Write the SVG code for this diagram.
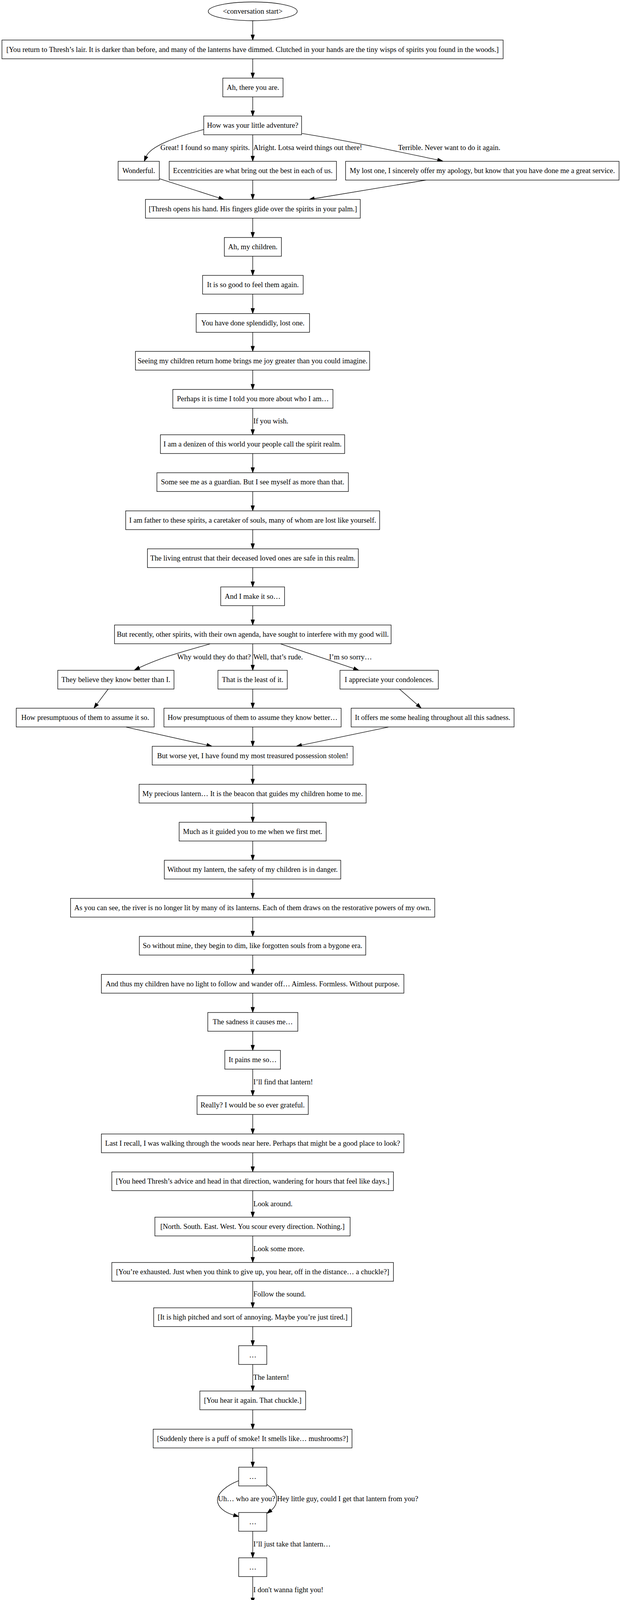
<svg xmlns="http://www.w3.org/2000/svg" width="1591" height="4700" viewBox="0 0 1591 4700">
<style>
text{font-family:"Liberation Serif","Times New Roman",Times,serif;font-size:18.67px;fill:#000}
.node text{text-anchor:middle}
.node rect,.node ellipse{fill:#fff;stroke:#000;stroke-width:1.33}
.edges path{fill:none;stroke:#000;stroke-width:1.33}
.lbl{text-anchor:start}
</style>
<defs>
<marker id="ah" viewBox="0 0 14 10" refX="0" refY="5" markerWidth="14" markerHeight="10" markerUnits="userSpaceOnUse" orient="auto" overflow="visible"><path d="M0,0.33 L13.33,5 L0,9.67 Z" fill="#000" stroke="#000" stroke-width="1"/></marker>
</defs>
<rect x="0" y="0" width="1591" height="4700" fill="#fff"/>
<g id="connectors" class="edges">
<path d="M647.5,53 L647.5,89.2" marker-end="url(#ah)"/>
<path d="M647.5,150.5 L647.5,186.7" marker-end="url(#ah)"/>
<path d="M647.5,248 L647.5,283.7" marker-end="url(#ah)"/>
<path d="M522,331.7 C450,350 385,375 374.6,400.6" marker-end="url(#ah)"/>
<path d="M647.5,345 L647.5,399.7" marker-end="url(#ah)"/>
<path d="M773.6,341.7 C900,362 1000,384 1121.3,409.4" marker-end="url(#ah)"/>
<path d="M408,457.3 L561,506.6" marker-end="url(#ah)"/>
<path d="M647.5,461 L647.5,497.2" marker-end="url(#ah)"/>
<path d="M1091.5,461 L805.1,508.5" marker-end="url(#ah)"/>
<path d="M647.5,558.5 L647.5,594.7" marker-end="url(#ah)"/>
<path d="M647.5,656 L647.5,691.7" marker-end="url(#ah)"/>
<path d="M647.5,753 L647.5,789.4" marker-end="url(#ah)"/>
<path d="M647.5,850.7 L647.5,886.2" marker-end="url(#ah)"/>
<path d="M647.5,947.5 L647.5,983.7" marker-end="url(#ah)"/>
<path d="M647.5,1045 L647.5,1099.7" marker-end="url(#ah)"/>
<path d="M647.5,1161 L647.5,1197" marker-end="url(#ah)"/>
<path d="M647.5,1258.3 L647.5,1294.5" marker-end="url(#ah)"/>
<path d="M647.5,1355.8 L647.5,1391.7" marker-end="url(#ah)"/>
<path d="M647.5,1453 L647.5,1489.2" marker-end="url(#ah)"/>
<path d="M647.5,1550.5 L647.5,1586.7" marker-end="url(#ah)"/>
<path d="M538,1648.3 C470,1668 420,1680 356.7,1709.4" marker-end="url(#ah)"/>
<path d="M647.5,1648 L647.5,1702.7" marker-end="url(#ah)"/>
<path d="M719,1648.3 L906.4,1711.4" marker-end="url(#ah)"/>
<path d="M277.2,1764 L248.6,1802.1" marker-end="url(#ah)"/>
<path d="M647.5,1764 L647.5,1799.7" marker-end="url(#ah)"/>
<path d="M1023.4,1764 L1069,1803.9" marker-end="url(#ah)"/>
<path d="M323,1861.3 L530,1907.4" marker-end="url(#ah)"/>
<path d="M647.5,1861 L647.5,1897.2" marker-end="url(#ah)"/>
<path d="M995,1861.3 L772.5,1907.6" marker-end="url(#ah)"/>
<path d="M647.5,1958.5 L647.5,1994.4" marker-end="url(#ah)"/>
<path d="M647.5,2055.7 L647.5,2091.7" marker-end="url(#ah)"/>
<path d="M647.5,2153 L647.5,2189" marker-end="url(#ah)"/>
<path d="M647.5,2250.3 L647.5,2286.5" marker-end="url(#ah)"/>
<path d="M647.5,2347.8 L647.5,2383.7" marker-end="url(#ah)"/>
<path d="M647.5,2445 L647.5,2481.2" marker-end="url(#ah)"/>
<path d="M647.5,2542.5 L647.5,2578.7" marker-end="url(#ah)"/>
<path d="M647.5,2640 L647.5,2675.7" marker-end="url(#ah)"/>
<path d="M647.5,2737 L647.5,2791.7" marker-end="url(#ah)"/>
<path d="M647.5,2853 L647.5,2889.7" marker-end="url(#ah)"/>
<path d="M647.5,2951 L647.5,2986.7" marker-end="url(#ah)"/>
<path d="M647.5,3048 L647.5,3102.7" marker-end="url(#ah)"/>
<path d="M647.5,3164 L647.5,3218.7" marker-end="url(#ah)"/>
<path d="M647.5,3280 L647.5,3334.7" marker-end="url(#ah)"/>
<path d="M647.5,3396 L647.5,3431.7" marker-end="url(#ah)"/>
<path d="M647.5,3493 L647.5,3547.7" marker-end="url(#ah)"/>
<path d="M647.5,3609 L647.5,3645.4" marker-end="url(#ah)"/>
<path d="M647.5,3706.7 L647.5,3742.7" marker-end="url(#ah)"/>
<path d="M611.4,3790.7 C575,3805 557,3825 557,3840 C557,3858 575,3872 598.8,3878.7" marker-end="url(#ah)"/>
<path d="M683.6,3800 C700,3812 709,3825 709,3837 C709,3850 703,3860 694.5,3866.4" marker-end="url(#ah)"/>
<path d="M647.5,3920 L647.5,3974.7" marker-end="url(#ah)"/>
<path d="M647.5,4036 L647.5,4090.7" marker-end="url(#ah)"/>
<path d="M647.5,4152 L647.5,4206.7" marker-end="url(#ah)"/>
<path d="M647.5,4268 L647.5,4303.7" marker-end="url(#ah)"/>
<path d="M647.5,4365 L647.5,4401.2" marker-end="url(#ah)"/>
<path d="M647.5,4462.5 L647.5,4517.7" marker-end="url(#ah)"/>
<path d="M647.5,4579 L647.5,4633.7" marker-end="url(#ah)"/>
<text class="lbl" x="411" y="384">Great! I found so many spirits.</text>
<text class="lbl" x="649" y="384">Alright. Lotsa weird things out there!</text>
<text class="lbl" x="1020" y="384">Terrible. Never want to do it again.</text>
<text class="lbl" x="649" y="1084">If you wish.</text>
<text class="lbl" x="454" y="1688">Why would they do that?</text>
<text class="lbl" x="649" y="1688">Well, that’s rude.</text>
<text class="lbl" x="843" y="1688">I’m so sorry…</text>
<text class="lbl" x="649" y="2776">I’ll find that lantern!</text>
<text class="lbl" x="649" y="3088">Look around.</text>
<text class="lbl" x="649" y="3203">Look some more.</text>
<text class="lbl" x="649" y="3319">Follow the sound.</text>
<text class="lbl" x="649" y="3532">The lantern!</text>
<text class="lbl" x="558.5" y="3843">Uh… who are you?</text>
<text class="lbl" x="710" y="3843">Hey little guy, could I get that lantern from you?</text>
<text class="lbl" x="649" y="3959">I’ll just take that lantern…</text>
<text class="lbl" x="649" y="4076">I don't wanna fight you!</text>
<text class="lbl" x="649" y="4192">Do you want to… fistbump?</text>
<text class="lbl" x="649" y="4503">[Throw out two fingers. Scissors beat paper?]</text>
<text class="lbl" x="649" y="4618">Thanks… I think.</text>
</g>
<g id="n0" class="node"><ellipse cx="647.5" cy="29" rx="114" ry="24"/><text x="647.5" y="35">&lt;conversation start&gt;</text></g>
<g id="n1" class="node"><rect x="5" y="102.5" width="1284" height="48"/><text x="647" y="132.5">[You return to Thresh’s lair. It is darker than before, and many of the lanterns have dimmed. Clutched in your hands are the tiny wisps of spirits you found in the woods.]</text></g>
<g id="n2" class="node"><rect x="570.8" y="200" width="154.4" height="48"/><text x="648" y="230">Ah, there you are.</text></g>
<g id="n3" class="node"><rect x="522" y="297" width="250.6" height="48"/><text x="647.3" y="327">How was your little adventure?</text></g>
<g id="n4a" class="node"><rect x="302.6" y="413" width="105.6" height="48"/><text x="355.4" y="443">Wonderful.</text></g>
<g id="n4b" class="node"><rect x="433.5" y="413" width="428.5" height="48"/><text x="647.7" y="443">Eccentricities are what bring out the best in each of us.</text></g>
<g id="n4c" class="node"><rect x="885.4" y="413" width="700.6" height="48"/><text x="1235.7" y="443">My lost one, I sincerely offer my apology, but know that you have done me a great service.</text></g>
<g id="n5" class="node"><rect x="372.6" y="510.5" width="550.4" height="48"/><text x="647.8" y="540.5">[Thresh opens his hand. His fingers glide over the spirits in your palm.]</text></g>
<g id="n6" class="node"><rect x="574.7" y="608" width="146.3" height="48"/><text x="647.8" y="638">Ah, my children.</text></g>
<g id="n7" class="node"><rect x="519" y="705" width="257.7" height="48"/><text x="647.8" y="735">It is so good to feel them again.</text></g>
<g id="n8" class="node"><rect x="502.6" y="802.7" width="290.4" height="48"/><text x="647.8" y="832.7">You have done splendidly, lost one.</text></g>
<g id="n9" class="node"><rect x="347" y="899.5" width="600" height="48"/><text x="647" y="929.5">Seeing my children return home brings me joy greater than you could imagine.</text></g>
<g id="n10" class="node"><rect x="442.7" y="997" width="410.3" height="48"/><text x="647.8" y="1027">Perhaps it is time I told you more about who I am…</text></g>
<g id="n11" class="node"><rect x="411" y="1113" width="472" height="48"/><text x="647" y="1143">I am a denizen of this world your people call the spirit realm.</text></g>
<g id="n12" class="node"><rect x="402" y="1210.3" width="490.5" height="48"/><text x="647.2" y="1240.3">Some see me as a guardian. But I see myself as more than that.</text></g>
<g id="n13" class="node"><rect x="322" y="1307.8" width="650.6" height="48"/><text x="647.3" y="1337.8">I am father to these spirits, a caretaker of souls, many of whom are lost like yourself.</text></g>
<g id="n14" class="node"><rect x="377.7" y="1405" width="540.3" height="48"/><text x="647.8" y="1435">The living entrust that their deceased loved ones are safe in this realm.</text></g>
<g id="n15" class="node"><rect x="565.5" y="1502.5" width="163.5" height="48"/><text x="647.2" y="1532.5">And I make it so…</text></g>
<g id="n16" class="node"><rect x="293.4" y="1600" width="708.6" height="48"/><text x="647.7" y="1630">But recently, other spirits, with their own agenda, have sought to interfere with my good will.</text></g>
<g id="n17a" class="node"><rect x="148" y="1716" width="297.7" height="48"/><text x="296.8" y="1746">They believe they know better than I.</text></g>
<g id="n17b" class="node"><rect x="558.4" y="1716" width="177.6" height="48"/><text x="647.2" y="1746">That is the least of it.</text></g>
<g id="n17c" class="node"><rect x="871" y="1716" width="252" height="48"/><text x="997" y="1746">I appreciate your condolences.</text></g>
<g id="n18a" class="node"><rect x="41.6" y="1813" width="353.4" height="48"/><text x="218.3" y="1843">How presumptuous of them to assume it so.</text></g>
<g id="n18b" class="node"><rect x="420" y="1813" width="454" height="48"/><text x="647" y="1843">How presumptuous of them to assume they know better…</text></g>
<g id="n18c" class="node"><rect x="899.6" y="1813" width="417.4" height="48"/><text x="1108.3" y="1843">It offers me some healing throughout all this sadness.</text></g>
<g id="n19" class="node"><rect x="390" y="1910.5" width="514.6" height="48"/><text x="647.3" y="1940.5">But worse yet, I have found my most treasured possession stolen!</text></g>
<g id="n20" class="node"><rect x="356.4" y="2007.7" width="581.6" height="48"/><text x="647.2" y="2037.7">My precious lantern… It is the beacon that guides my children home to me.</text></g>
<g id="n21" class="node"><rect x="459" y="2105" width="376.6" height="48"/><text x="647.3" y="2135">Much as it guided you to me when we first met.</text></g>
<g id="n22" class="node"><rect x="421" y="2202.3" width="452" height="48"/><text x="647" y="2232.3">Without my lantern, the safety of my children is in danger.</text></g>
<g id="n23" class="node"><rect x="180.7" y="2299.8" width="933.1" height="48"/><text x="647.2" y="2329.8">As you can see, the river is no longer lit by many of its lanterns. Each of them draws on the restorative powers of my own.</text></g>
<g id="n24" class="node"><rect x="357" y="2397" width="580" height="48"/><text x="647" y="2427">So without mine, they begin to dim, like forgotten souls from a bygone era.</text></g>
<g id="n25" class="node"><rect x="259.7" y="2494.5" width="775" height="48"/><text x="647.2" y="2524.5">And thus my children have no light to follow and wander off… Aimless. Formless. Without purpose.</text></g>
<g id="n26" class="node"><rect x="532.4" y="2592" width="230.6" height="48"/><text x="647.7" y="2622">The sadness it causes me…</text></g>
<g id="n27" class="node"><rect x="576" y="2689" width="142.5" height="48"/><text x="647.2" y="2719">It pains me so…</text></g>
<g id="n28" class="node"><rect x="504.8" y="2805" width="284.9" height="48"/><text x="647.2" y="2835">Really? I would be so ever grateful.</text></g>
<g id="n29" class="node"><rect x="259.7" y="2903" width="775" height="48"/><text x="647.2" y="2933">Last I recall, I was walking through the woods near here. Perhaps that might be a good place to look?</text></g>
<g id="n30" class="node"><rect x="286.5" y="3000" width="721.5" height="48"/><text x="647.2" y="3030">[You heed Thresh’s advice and head in that direction, wandering for hours that feel like days.]</text></g>
<g id="n31" class="node"><rect x="396.8" y="3116" width="500.2" height="48"/><text x="646.9" y="3146">[North. South. East. West. You scour every direction. Nothing.]</text></g>
<g id="n32" class="node"><rect x="286.5" y="3232" width="721.5" height="48"/><text x="647.2" y="3262">[You’re exhausted. Just when you think to give up, you hear, off in the distance… a chuckle?]</text></g>
<g id="n33" class="node"><rect x="393.7" y="3348" width="507" height="48"/><text x="647.2" y="3378">[It is high pitched and sort of annoying. Maybe you’re just tired.]</text></g>
<g id="n34" class="node"><rect x="611.5" y="3445" width="72" height="48"/><text x="647.5" y="3475">…</text></g>
<g id="n35" class="node"><rect x="512" y="3561" width="271" height="48"/><text x="647.5" y="3591">[You hear it again. That chuckle.]</text></g>
<g id="n36" class="node"><rect x="392.5" y="3658.7" width="509.3" height="48"/><text x="647.2" y="3688.7">[Suddenly there is a puff of smoke! It smells like… mushrooms?]</text></g>
<g id="n37" class="node"><rect x="611.5" y="3756" width="72" height="48"/><text x="647.5" y="3786">…</text></g>
<g id="n38" class="node"><rect x="611.5" y="3872" width="72" height="48"/><text x="647.5" y="3902">…</text></g>
<g id="n39" class="node"><rect x="611.5" y="3988" width="72" height="48"/><text x="647.5" y="4018">…</text></g>
<g id="n40" class="node"><rect x="611.5" y="4104" width="72" height="48"/><text x="647.5" y="4134">…</text></g>
<g id="n41" class="node"><rect x="611.5" y="4220" width="72" height="48"/><text x="647.5" y="4250">…</text></g>
<g id="n42" class="node"><rect x="457" y="4317" width="381" height="48"/><text x="647.5" y="4347">[The strange creature throws out an open palm.]</text></g>
<g id="n43" class="node"><rect x="611.5" y="4414.5" width="72" height="48"/><text x="647.5" y="4444.5">…</text></g>
<g id="n44" class="node"><rect x="497.8" y="4531" width="298.7" height="48"/><text x="647.2" y="4561">Heh heh! You win! Enjoy the lantern!</text></g>
<g id="n45" class="node"><ellipse cx="647.5" cy="4671" rx="111" ry="24"/><text x="647.5" y="4677">&lt;conversation end&gt;</text></g>
</svg>
